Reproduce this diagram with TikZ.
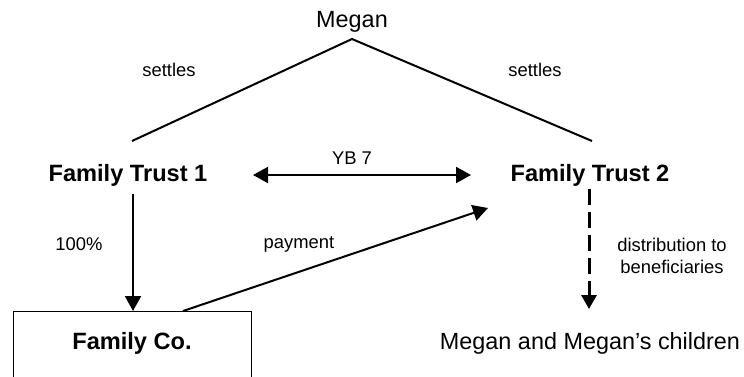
\documentclass[tikz,border=0pt]{standalone}
\usepackage{fontspec}
\setmainfont{Liberation Sans}
\usetikzlibrary{arrows.meta}
\begin{document}
\begin{tikzpicture}[x=1pt,y=-1pt,
  big/.style={font=\fontsize{23.4}{28}\selectfont, inner sep=0pt},
  bigb/.style={font=\fontsize{23.6}{28}\selectfont\bfseries, inner sep=0pt},
  lbl/.style={font=\fontsize{18.4}{22}\selectfont, inner sep=0pt, align=center},
  conn/.style={line width=2pt},
  arr/.style={line width=2pt, -{Triangle[length=15pt,width=16pt]}},
  dbl/.style={line width=2pt, {Triangle[length=15pt,width=16pt]}-{Triangle[length=15pt,width=16pt]}},
  dsh/.style={line width=3pt, dash pattern=on 16pt off 7pt, -{Triangle[length=14pt,width=15pt]}},
  boxst/.style={draw, line width=1pt, minimum width=238pt, minimum height=90pt, inner sep=0pt},
]
\fill[white] (0,0) rectangle (744,376);
\clip (0,0) rectangle (744,376);

% nodes
\node[big] (megan) at (352,22) {Megan};
\node[bigb] (ft1) at (128,175) {Family Trust 1};
\node[bigb] (ft2) at (590,175) {Family Trust 2};
\node[boxst] (fcbox) at (132,356) {};
\node[bigb] (fc) at (132,343) {Family Co.};
\node[big] (mc) at (590,343) {Megan and Megan’s children};

% connector ends
\coordinate (apex) at (352,39);
\coordinate (l1) at (132,141);
\coordinate (r1) at (592,141);
\coordinate (d1) at (253,175);
\coordinate (d2) at (471,175);
\coordinate (v1) at (133,194);
\coordinate (v2) at (133,311);
\coordinate (p1) at (183,311);
\coordinate (p2) at (488,208);
\coordinate (q1) at (589,189);
\coordinate (q2) at (589,309);

% connectors
\draw[conn] (l1) -- (apex) -- (r1);
\draw[dbl] (d1) -- (d2);
\draw[arr] (v1) -- (v2);
\draw[arr] (p1) -- (p2);
\draw[dsh] (q1) -- (q2);

% labels
\node[lbl] (s1) at (169,70) {settles};
\node[lbl] (s2) at (535,70) {settles};
\node[lbl] (yb) at (352,158) {YB 7};
\node[lbl] (pc) at (79,244) {100\%};
\node[lbl] (pay) at (299,244) {payment};
\node[lbl] (dist) at (672,256) {distribution to\\beneficiaries};
\end{tikzpicture}
\end{document}
